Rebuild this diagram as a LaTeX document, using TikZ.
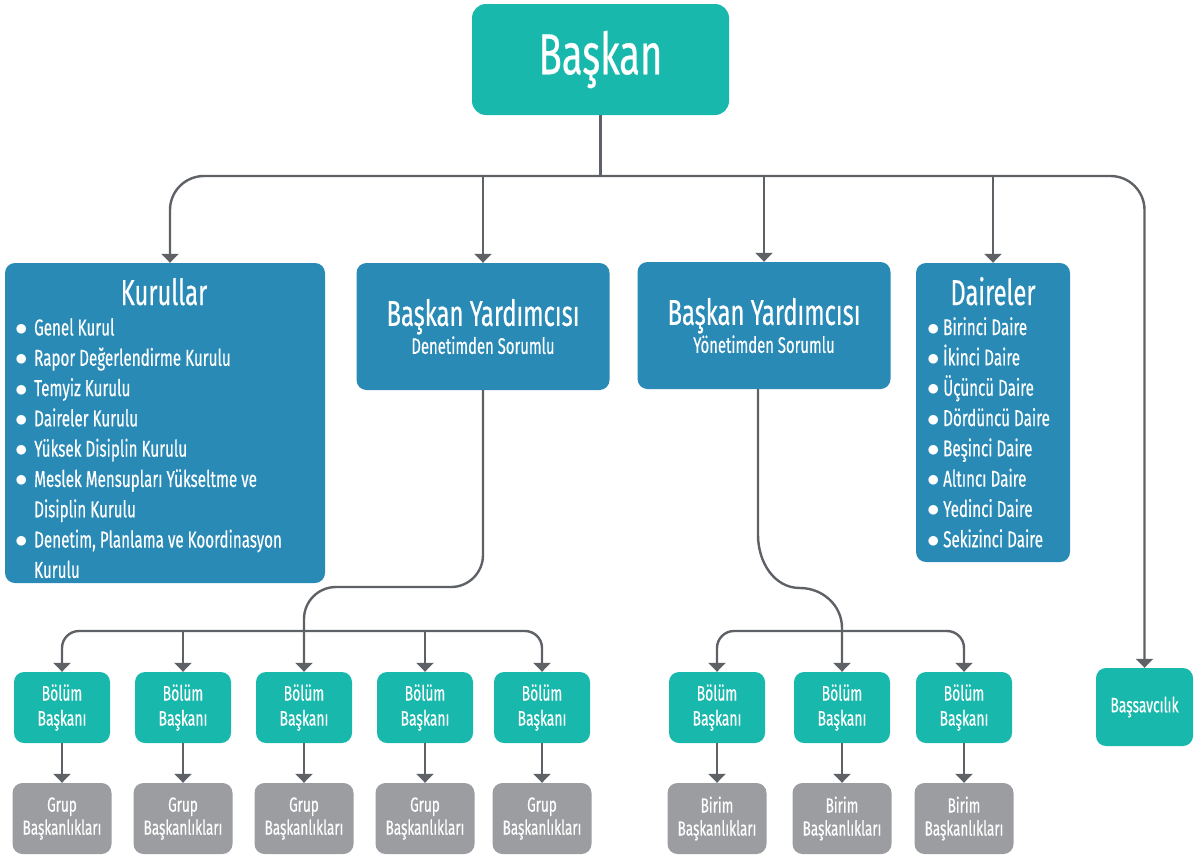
\documentclass[tikz,border=0pt]{standalone}
\usepackage{fontspec}
\setmainfont{Fira Sans}[FakeStretch=0.66,FakeBold=0.4]
\usetikzlibrary{arrows.meta}

\definecolor{tealbox}{RGB}{24,185,172}
\definecolor{bluebox}{RGB}{41,138,182}
\definecolor{greybox}{RGB}{155,157,160}
\definecolor{linegrey}{RGB}{94,97,102}

\newcommand{\blt}[1][19pt]{\makebox[#1][l]{$\bullet$}}

\begin{document}
\begin{tikzpicture}[x=1pt,y=-1pt]
	\tikzstyle{box} = [rectangle,rounded corners=10pt,text=white,align=center,inner sep=0pt]
	\tikzstyle{top} = [box,fill=tealbox,rounded corners=14pt,minimum width=257pt,minimum height=111pt,font=\fontsize{58}{60}\selectfont]
	\tikzstyle{vice} = [box,fill=bluebox,minimum width=253pt,minimum height=127pt,font=\fontsize{36}{28}\selectfont]
	\tikzstyle{unit} = [box,fill=tealbox,minimum width=96pt,minimum height=71pt,font=\fontsize{21}{25}\selectfont]
	\tikzstyle{sub} = [box,fill=greybox,minimum width=99pt,minimum height=71pt,font=\fontsize{20.5}{23}\selectfont]
	\tikzstyle{title} = [text=white,inner sep=0pt,font=\fontsize{36}{40}\selectfont]
	\tikzstyle{list} = [text=white,inner sep=0pt,align=left,font=\fontsize{23}{30.3}\selectfont]
	\tikzstyle{link} = [draw=linegrey,line width=2.4pt]
	\tikzstyle{arrow} = [link,-{Triangle[width=17pt,length=9pt]}]

	\useasboundingbox (0,0) rectangle (1196,854);

	% top level
	\node[top] (bas) at (600.5,59.5) {Başkan};

	\node[box,fill=bluebox,minimum width=320pt,minimum height=320pt] (kur) at (165,423) {};
	\node[title,anchor=base] (kurt) at (164,305) {Kurullar};
	\node[list,anchor=north west] (kurl) at (15,318) {\blt Genel Kurul\\ \blt Rapor Değerlendirme Kurulu\\ \blt Temyiz Kurulu\\ \blt Daireler Kurulu\\ \blt Yüksek Disiplin Kurulu\\ \blt Meslek Mensupları Yükseltme ve\\ \hspace*{19pt}Disiplin Kurulu\\ \blt Denetim, Planlama ve Koordinasyon\\ \hspace*{19pt}Kurulu};

	\node[vice] (den) at (483,326.5) {Başkan Yardımcısı\\{\fontsize{22.5}{28}\selectfont Denetimden Sorumlu}};
	\node[vice] (yon) at (764,325.5) {Başkan Yardımcısı\\{\fontsize{22.5}{28}\selectfont Yönetimden Sorumlu}};

	\node[box,fill=bluebox,minimum width=154pt,minimum height=299pt] (dai) at (993,412.5) {};
	\node[title,anchor=base] (dait) at (993,305) {Daireler};
	\node[list,anchor=north west] (dail) at (927,317) {\blt[16pt]Birinci Daire\\ \blt[16pt]İkinci Daire\\ \blt[16pt]Üçüncü Daire\\ \blt[16pt]Dördüncü Daire\\ \blt[16pt]Beşinci Daire\\ \blt[16pt]Altıncı Daire\\ \blt[16pt]Yedinci Daire\\ \blt[16pt]Sekizinci Daire};

	\node[unit,minimum width=97pt,minimum height=78pt] (bsv) at (1144.5,707) {Başsavcılık};

	% Denetim side
	\node[unit] (b1) at (62,707.5) {Bölüm\\Başkanı};
	\node[unit] (b2) at (183,707.5) {Bölüm\\Başkanı};
	\node[unit] (b3) at (304,707.5) {Bölüm\\Başkanı};
	\node[unit] (b4) at (425,707.5) {Bölüm\\Başkanı};
	\node[unit] (b5) at (542,707.5) {Bölüm\\Başkanı};
	\node[sub] (g1) at (62,818.5) {Grup\\Başkanlıkları};
	\node[sub] (g2) at (183,818.5) {Grup\\Başkanlıkları};
	\node[sub] (g3) at (304,818.5) {Grup\\Başkanlıkları};
	\node[sub] (g4) at (425,818.5) {Grup\\Başkanlıkları};
	\node[sub] (g5) at (542,818.5) {Grup\\Başkanlıkları};

	% Yonetim side
	\node[unit] (c1) at (717,707.5) {Bölüm\\Başkanı};
	\node[unit] (c2) at (842,707.5) {Bölüm\\Başkanı};
	\node[unit] (c3) at (964,707.5) {Bölüm\\Başkanı};
	\node[sub] (h1) at (717,818.5) {Birim\\Başkanlıkları};
	\node[sub] (h2) at (842,818.5) {Birim\\Başkanlıkları};
	\node[sub] (h3) at (964,818.5) {Birim\\Başkanlıkları};

	\coordinate (tb) at (0,176);
	\coordinate (lb) at (0,631);
	\coordinate (dn) at (0,587);

	% main bus
	\draw[link] (bas.south) -- (bas.south |- tb);
	\draw[arrow,{Triangle[width=17pt,length=9pt]}-{Triangle[width=17pt,length=9pt]},rounded corners=34pt] ([xshift=5pt]kur.north) -- ([xshift=5pt]kur.north |- tb) -- (bsv.north |- tb) -- (bsv.north);
	\draw[arrow] (den.north |- tb) -- (den.north);
	\draw[arrow] (yon.north |- tb) -- (yon.north);
	\draw[arrow] (dai.north |- tb) -- (dai.north);

	% Denetim branch
	\draw[arrow,rounded corners=32pt] (den.south) -- (den.south |- dn) -- (b3.north |- dn) -- (b3.north);
	\draw[arrow,{Triangle[width=17pt,length=9pt]}-{Triangle[width=17pt,length=9pt]},rounded corners=17pt] (b1.north) -- (b1.north |- lb) -- (b5.north |- lb) -- (b5.north);
	\draw[arrow] (b2.north |- lb) -- (b2.north);
	\draw[arrow] (b4.north |- lb) -- (b4.north);

	% Yonetim branch
	\draw[arrow] ([xshift=-6pt]yon.south) -- (758,535) to[out=-90,in=180] (800,588) to[out=0,in=90] (c2.north |- 0,628) -- (c2.north);
	\draw[arrow,{Triangle[width=17pt,length=9pt]}-{Triangle[width=17pt,length=9pt]},rounded corners=17pt] (c1.north) -- (c1.north |- lb) -- (c3.north |- lb) -- (c3.north);

	% bottom
	\path (b1) edge[arrow] (g1) (b2) edge[arrow] (g2) (b3) edge[arrow] (g3) (b4) edge[arrow] (g4) (b5) edge[arrow] (g5);
	\path (c1) edge[arrow] (h1) (c2) edge[arrow] (h2) (c3) edge[arrow] (h3);
\end{tikzpicture}
\end{document}
